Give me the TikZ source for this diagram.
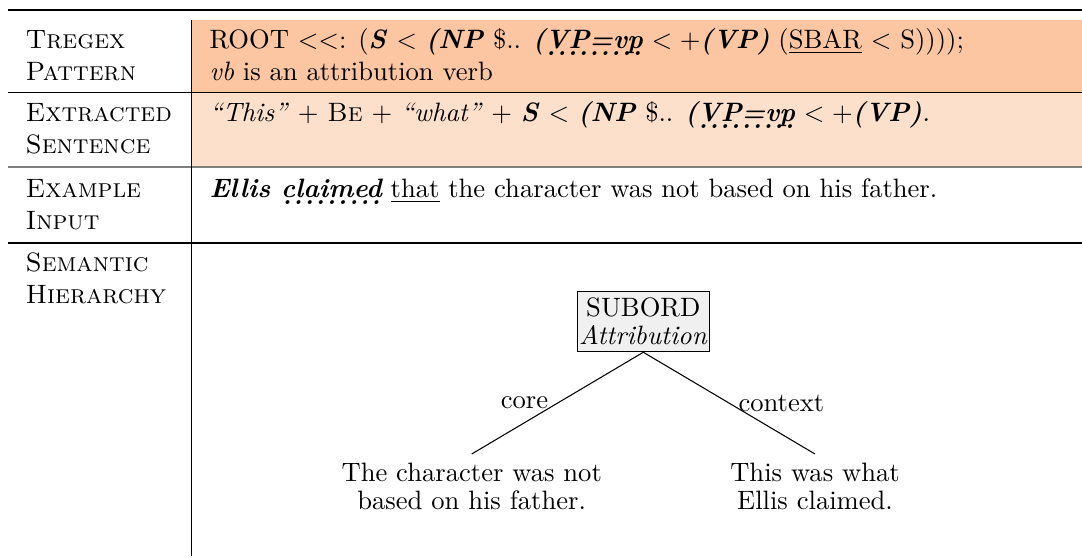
\documentclass[tikz,border=0pt]{standalone}
\newcommand{\bfit}[1]{\textbf{\textit{#1}}}
\newcommand{\myuline}[1]{\leavevmode\setbox0\hbox{#1}\rlap{\rule[-2pt]{\wd0}{0.4pt}}\box0\relax}
\newcommand{\mydotline}[1]{\leavevmode\setbox0\hbox{#1}\rlap{\lower3pt\hbox to\wd0{\xleaders\hbox to 4pt{\hss.\hss}\hfil}}\box0\relax}
\definecolor{rowA}{HTML}{FBC6A1}
\definecolor{rowB}{HTML}{FDE0CC}
\definecolor{boxfill}{HTML}{F0F0F0}
\begin{document}
\begin{tikzpicture}[x=0.376pt,y=-0.376pt,
  lbl/.style={anchor=base west,inner sep=0pt,font=\scshape},
  txt/.style={anchor=base west,inner sep=0pt},
  rulethin/.style={line width=0.5pt},
  treebox/.style={draw,line width=0.4pt,fill=boxfill,minimum width=49.6pt,minimum height=22.8pt,inner sep=0pt,align=center,font=\fontsize{10}{10.4}\selectfont},
  leaf/.style={anchor=north,align=center,font=\fontsize{10}{10.5}\selectfont},
  edge/.style={line width=0.4pt}]
\useasboundingbox (0,0) rectangle (1082,558);
% row backgrounds
\fill[rowA] (192,19.6) rectangle (1082,92.7);
\fill[rowB] (192,92.7) rectangle (1082,166.7);
% rules
\draw[line width=0.8pt] (8,10) -- (1082,10);
\draw[rulethin] (8,92.7) -- (1082,92.7);
\draw[line width=0.6pt,gray] (8,166.7) -- (1082,166.7);
\draw[rulethin] (8,243) -- (1082,243);
\draw[line width=0.4pt] (191.5,19.6) -- (191.5,556);
% left labels
\node[lbl] (l1a) at (25,48) {Tregex};
\node[lbl] (l1b) at (25,80) {Pattern};
\node[lbl] (l2a) at (25,121) {Extracted};
\node[lbl] (l2b) at (25,153) {Sentence};
\node[lbl] (l3a) at (25,197) {Example};
\node[lbl] (l3b) at (25,229) {Input};
\node[lbl] (l4a) at (25,271) {Semantic};
\node[lbl] (l4b) at (25,303) {Hierarchy};
% right texts
\node[txt] (r1a) at (209,48) {ROOT $<<$: (\bfit{S} $<$ \bfit{(NP} \$.. \bfit{(\mydotline{VP=vp}} $<+$\bfit{(VP)} (\myuline{SBAR} $<$ S))));};
\node[txt] (r1b) at (209,80) {\textit{vb} is an attribution verb};
\node[txt] (r2a) at (209,121) {\textit{``This''} + \textsc{Be} + \textit{``what''} + \bfit{S} $<$ \bfit{(NP} \$.. \bfit{(\mydotline{VP=vp}} $<+$\bfit{(VP)}\textit{.}};
\node[txt] (r3a) at (209,197) {\bfit{Ellis \mydotline{claimed}} \myuline{that} the character was not based on his father.};
% tree
\node[treebox] (sub) at (643.3,321.4) {SUBORD\\\textit{Attribution}};
\node[leaf] (lf1) at (471.7,454) {The character was not\\based on his father.};
\node[leaf] (lf2) at (815,454) {This was what\\Ellis claimed.};
\draw[edge] (sub.south) -- (lf1.north) node[midway,left] {core};
\draw[edge] (sub.south) -- (lf2.north) node[midway,right] {context};
\end{tikzpicture}
\end{document}
